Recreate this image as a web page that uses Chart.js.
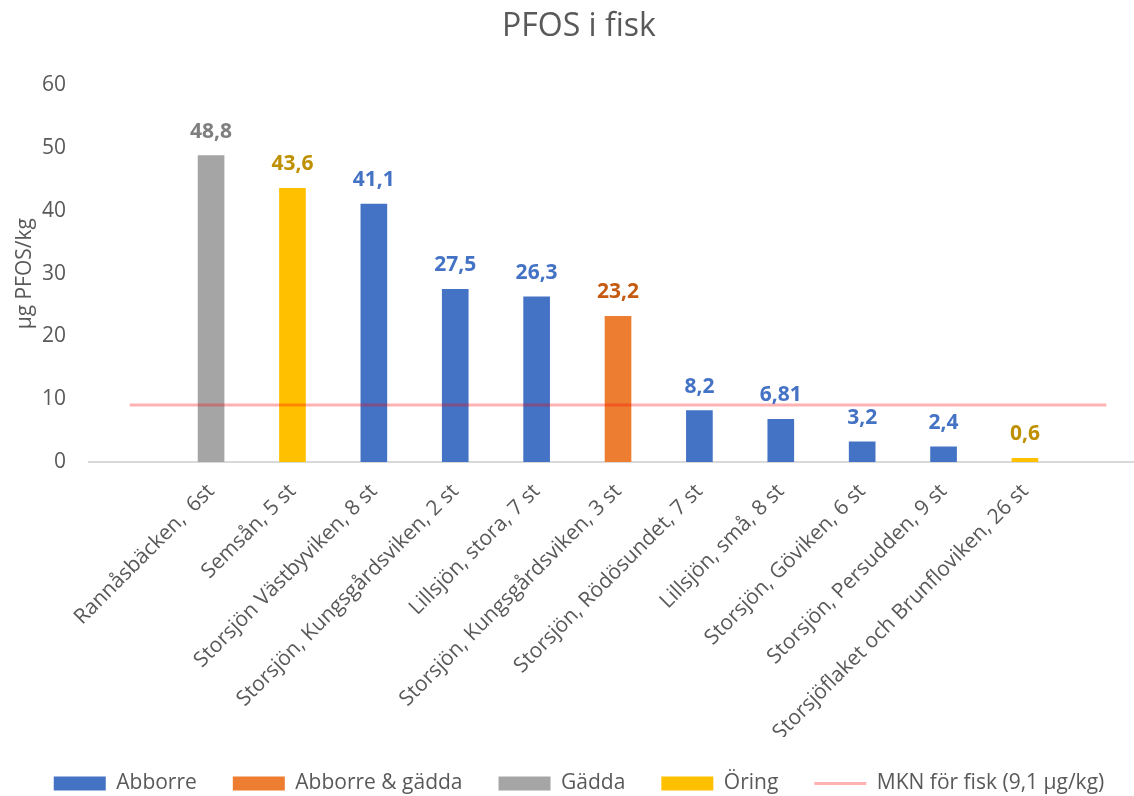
<!DOCTYPE html>
<html>
<head>
<meta charset="utf-8">
<script src="https://cdn.jsdelivr.net/npm/chart.js@4.4.0/dist/chart.umd.min.js"></script>
<style>
  html, body { margin: 0; padding: 0; background: #fff; }
</style>
</head>
<body>
<canvas id="pfosChart" width="1134" height="796"></canvas>
<script>
const sites = [
  'Rannåsbäcken,  6st',
  'Semsån, 5 st',
  'Storsjön Västbyviken, 8 st',
  'Storsjön, Kungsgårdsviken, 2 st',
  'Lillsjön, stora, 7 st',
  'Storsjön, Kungsgårdsviken, 3 st',
  'Storsjön, Rödösundet, 7 st',
  'Lillsjön, små, 8 st',
  'Storsjön, Göviken, 6 st',
  'Storsjön, Persudden, 9 st',
  'Storsjöflaket och Brunfloviken, 26 st'
];
const pfos = [48.8, 43.6, 41.1, 27.5, 26.3, 23.2, 8.2, 6.81, 3.2, 2.4, 0.6];
const species = ['Gädda', 'Öring', 'Abborre', 'Abborre', 'Abborre', 'Abborre & gädda',
  'Abborre', 'Abborre', 'Abborre', 'Abborre', 'Öring'];

const seriesNames = ['Abborre', 'Abborre & gädda', 'Gädda', 'Öring'];
const seriesColors = ['#4472C4', '#ED7D31', '#A5A5A5', '#FFC000'];
const labelColors = ['#4472C4', '#C55A11', '#7F7F7F', '#BF9000'];

const mknLabel = 'MKN för fisk (9,1 µg/kg)';
const mknValue = 9.1;
const mknSpan = [0, 12];

const xMin = -0.5, xMax = 12.34;
const textGrey = '#595959';
Chart.defaults.font.family = '"Open Sans", sans-serif';

// one bar dataset per species, x = position of the site (1..11)
const barSets = seriesNames.map((name, s) => ({
  type: 'bar',
  label: name,
  data: pfos.map((v, i) => ({ x: i + 1, y: v })).filter((p, i) => species[i] === name),
  backgroundColor: seriesColors[s],
  valueColor: labelColors[s],
  barThickness: 26,
  grouped: false,
  order: 1
}));

const mknSet = {
  type: 'line',
  label: mknLabel,
  data: mknSpan.map(x => ({ x: x, y: mknValue })),
  borderColor: 'rgba(255, 0, 0, 0.3)',
  borderWidth: 3,
  pointRadius: 0,
  order: 0
};

const valueLabels = {
  id: 'valueLabels',
  afterDatasetsDraw(chart) {
    const ctx = chart.ctx;
    ctx.save();
    ctx.font = 'bold 21px "Open Sans", sans-serif';
    ctx.textAlign = 'center';
    ctx.textBaseline = 'middle';
    chart.data.datasets.forEach((ds, i) => {
      if (ds.type !== 'bar') return;
      chart.getDatasetMeta(i).data.forEach((bar, j) => {
        ctx.fillStyle = ds.valueColor;
        ctx.fillText(String(ds.data[j].y).replace('.', ','), bar.x, bar.y - 24);
      });
    });
    ctx.restore();
  }
};

new Chart(document.getElementById('pfosChart'), {
  type: 'bar',
  data: { datasets: [...barSets, mknSet] },
  options: {
    responsive: false,
    animation: false,
    layout: { padding: { left: 0, right: -24, top: 0, bottom: -8 } },
    plugins: {
      title: {
        display: true,
        text: 'PFOS i fisk',
        color: textGrey,
        font: { size: 32, weight: 'normal' },
        padding: { top: 8, bottom: 39 }
      },
      legend: {
        position: 'bottom',
        labels: {
          color: textGrey,
          font: { size: 21 },
          usePointStyle: true,
          pointStyleWidth: 52,
          boxHeight: 14,
          padding: 36,
          generateLabels(chart) {
            return chart.data.datasets.map((ds, i) => {
              const isLine = ds.type === 'line';
              const c = isLine ? ds.borderColor : ds.backgroundColor;
              return {
                text: ds.label,
                fillStyle: c,
                strokeStyle: c,
                lineWidth: isLine ? 3 : 0,
                pointStyle: isLine ? 'line' : 'rect',
                fontColor: textGrey,
                hidden: false,
                datasetIndex: i
              };
            });
          }
        }
      },
      tooltip: { enabled: false }
    },
    scales: {
      x: {
        type: 'linear',
        offset: false,
        min: xMin,
        max: xMax,
        afterBuildTicks(axis) {
          // empty ticks at both ends keep the rotated labels from adding padding
          axis.ticks = [xMin, ...sites.map((_, i) => i + 1), xMax].map(v => ({ value: v }));
        },
        afterFit(scale) {
          scale.height = 275;
          scale.paddingLeft = 0;
          scale.paddingRight = 0;
        },
        ticks: {
          autoSkip: false,
          minRotation: 45,
          maxRotation: 45,
          color: textGrey,
          font: { size: 21 },
          padding: 9,
          callback: v => sites[v - 1] || ''
        },
        grid: { display: false },
        border: { display: true, color: '#D9D9D9', width: 2 }
      },
      y: {
        min: 0,
        max: 60,
        afterFit(scale) { scale.width = 89; },
        ticks: { stepSize: 10, color: textGrey, font: { size: 21 }, padding: 15 },
        grid: { display: false },
        border: { display: false },
        title: {
          display: true,
          text: 'µg PFOS/kg',
          color: textGrey,
          font: { size: 21 },
          padding: { top: 12, bottom: 0 }
        }
      }
    }
  },
  plugins: [valueLabels]
});
</script>
</body>
</html>
